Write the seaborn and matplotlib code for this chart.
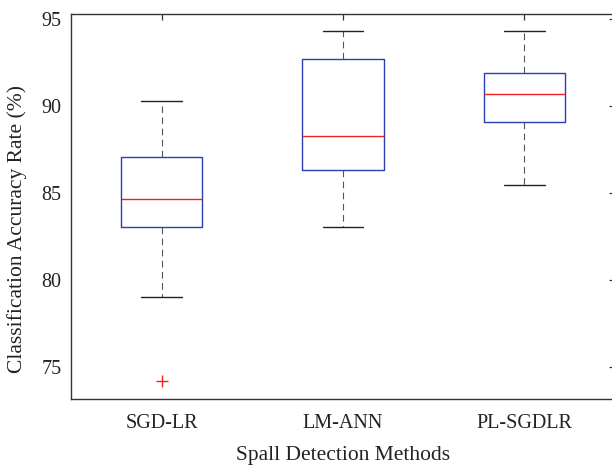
import pandas as pd
import numpy as np
import matplotlib
matplotlib.use('Agg')
import matplotlib.pyplot as plt
import seaborn as sns

# values (five-number summary per method)
methods = ['SGD-LR', 'LM-ANN', 'PL-SGDLR']
lower_whisker = [79.04, 83.06, 85.48]
q1 = [83.06, 86.30, 89.10]
median = [84.67, 88.29, 90.71]
q3 = [87.09, 92.72, 91.93]
upper_whisker = [90.30, 94.33, 94.33]
outlier_method = ['SGD-LR']
outlier_value = [74.17]

# long table for seaborn: five values per method give exactly these quartiles
rows = {'Method': [], 'Accuracy': []}
for ij in range(len(methods)):
    for v in [lower_whisker[ij], q1[ij], median[ij], q3[ij], upper_whisker[ij]]:
        rows['Method'].append(methods[ij])
        rows['Accuracy'].append(v)
df = pd.DataFrame(rows)

sns.set_style('white')
plt.rcParams['font.family'] = ['Liberation Serif', 'DejaVu Serif']

blue = '#2a3fb0'
red = '#f02020'

fig = plt.figure(figsize=(6.12, 4.68), dpi=100)
ax = fig.add_axes([0.116, 0.148, 0.889, 0.822])

sns.boxplot(data=df, x='Method', y='Accuracy', order=methods, width=0.45,
            fill=False, whis=1.5, ax=ax,
            boxprops=dict(color=blue, linewidth=1.0),
            medianprops=dict(color=red, linewidth=1.0),
            whiskerprops=dict(color='#555555', linewidth=0.8, linestyle=(0, (6, 4))),
            capprops=dict(color='#222222', linewidth=1.0),
            flierprops=dict(marker='+', markeredgecolor=red))

# outlier(s)
for m, v in zip(outlier_method, outlier_value):
    ax.plot(methods.index(m), v, '+', color=red, markersize=8, markeredgewidth=1.0)

ax.set_xlim(-0.5, 2.5)
ax.set_ylim(73.16, 95.3)
ax.set_yticks([75, 80, 85, 90, 95])

for s in ax.spines.values():
    s.set_visible(True)
    s.set_color('#333333')
    s.set_linewidth(1.0)

ax.tick_params(direction='in', top=True, right=True, length=4, width=0.9,
               color='#333333', labelsize=14.5, labelcolor='#222222')
ax.tick_params(axis='y', pad=7)
ax.tick_params(axis='x', pad=11)
ax.set_xlabel('Spall Detection Methods', fontsize=15.5, color='#222222', labelpad=9)
ax.set_ylabel('Classification Accuracy Rate (%)', fontsize=15.5, color='#222222')
ax.yaxis.set_label_coords(-0.08, 0.44)

plt.savefig('out.png', dpi=100)
